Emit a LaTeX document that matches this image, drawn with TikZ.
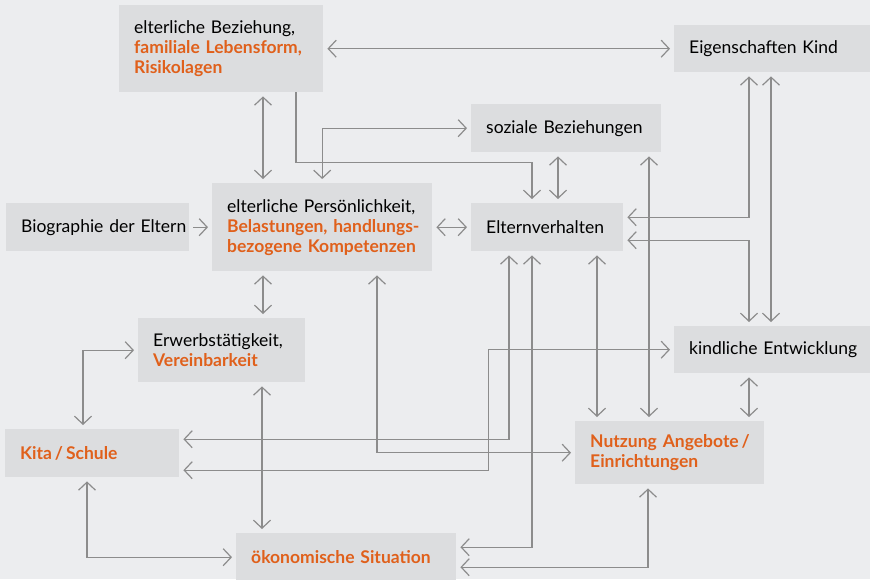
\documentclass[tikz,border=0pt]{standalone}
\usepackage{fontspec}
\setmainfont{Lato}[WordSpace=0.7]
\usepackage{tikz}
\usetikzlibrary{arrows.meta}
\definecolor{bggray}{HTML}{ECEDEF}
\definecolor{boxgray}{HTML}{DCDDDF}
\definecolor{linegray}{HTML}{8C8C8C}
\definecolor{orangeT}{HTML}{E0601B}
\newcommand{\hili}[1]{\textcolor{orangeT}{\bfseries #1}}

\begin{document}
\begin{tikzpicture}[x=1pt, y=-1pt]
		\tikzstyle{box}=[fill=boxgray, anchor=north west, inner sep=0pt, font=\fontsize{17.5}{20}\selectfont, execute at begin node={\leftskip=15pt\rightskip=0pt plus 1fil}]
		\tikzstyle{conn}=[draw=linegray, line width=1.2pt, shorten >=4pt, shorten <=4pt, >={Straight Barb[length=8pt,width=17pt]}]
		
		\useasboundingbox[fill=bggray] (0,0) rectangle (870,579);
		
		% Top row
		\node[box, text width=204pt, minimum height=87pt] at (119, 5) (bez) {elterliche Beziehung,\\\hili{familiale Lebensform,}\\\hili{Risikolagen}};
		\node[box, text width=196pt, minimum height=47pt] at (674, 25) (eig) {Eigenschaften Kind};
		\node[box, text width=190pt, minimum height=48pt] at (471, 104) (soz) {soziale Beziehungen};
		
		% Middle row
		\node[box, text width=183pt, minimum height=48pt] at (6, 203) (bio) {Biographie der Eltern};
		\node[box, text width=220pt, minimum height=88pt] at (212, 183) (pers) {elterliche Persönlichkeit,\\\hili{Belastungen, handlungs-}\\\hili{bezogene Kompetenzen}};
		\node[box, text width=152pt, minimum height=48pt] at (471, 203) (verh) {Elternverhalten};
		\node[box, text width=196pt, minimum height=47pt] at (674, 326) (kind) {kindliche Entwicklung};
		\node[box, text width=167pt, minimum height=64pt] at (138, 318) (erw) {Erwerbstätigkeit,\\\hili{Vereinbarkeit}};
		
		% Bottom row
		\node[box, text width=174pt, minimum height=48pt] at (5, 429) (kita) {\hili{Kita\,/\,Schule}};
		\node[box, text width=189pt, minimum height=63pt] at (575, 421) (nutz) {\hili{Nutzung Angebote\,/}\\\hili{Einrichtungen}};
		\node[box, text width=220pt, minimum height=48pt] at (236, 533) (oek) {\hili{ökonomische Situation}};
		
		% Beziehung, Persoenlichkeit
		\draw[conn, <->] (bez.east) -- (eig.west);
		\draw[conn, <->] ([xshift=144pt]bez.south west) -- ([xshift=51pt]pers.north west);
		\draw[conn, ->, shorten <=0pt] ([xshift=177pt]bez.south west) -- ++(0,70) -| ([xshift=61pt]verh.north west);
		\draw[conn, <->] (pers.north) |- (soz.west);
		\draw[conn, <->] ([xshift=87pt]soz.south west) -- ([xshift=87pt]verh.north west);
		\draw[conn, ->] (bio.east) -- (pers.west);
		\draw[conn, <->] (pers.east) -- (verh.west);
		
		% Kind
		\draw[conn, <->] ([xshift=75pt]eig.south west) |- ([yshift=10pt]verh.east);
		\draw[conn, <->] ([yshift=-13pt]verh.east) -| ([xshift=75pt]kind.north west);
		\draw[conn, <->] ([xshift=97pt]eig.south west) -- ([xshift=97pt]kind.north west);
		\draw[conn, <->] ([xshift=75pt]kind.south west) -- ([xshift=174pt]nutz.north west);
		
		% Angebote
		\draw[conn, <->] ([xshift=178pt]soz.south west) -- ([xshift=74pt]nutz.north west);
		\draw[conn, <->] ([xshift=126pt]verh.south west) -- ([xshift=22pt]nutz.north west);
		\draw[conn, <->] ([xshift=165pt]pers.south west) |- (nutz.west);
		\draw[conn, <->] ([xshift=73pt]nutz.south west) |- ([yshift=-10pt]oek.east);
		
		% Kita, Erwerb, Oekonomie
		\draw[conn, <->] ([xshift=38pt]verh.south west) |- ([yshift=14pt]kita.east);
		\draw[conn, <->] ([yshift=-17pt]kita.east) -- ++(309,0) |- (kind.west);
		\draw[conn, <->] ([xshift=61pt]verh.south west) |- ([yshift=10pt]oek.east);
		\draw[conn, <->] ([xshift=51pt]pers.south west) -- ([xshift=125pt]erw.north west);
		\draw[conn, <->] ([xshift=124pt]erw.south west) -- ([xshift=26pt]oek.north west);
		\draw[conn, <->] (erw.west) -| ([xshift=78pt]kita.north west);
		\draw[conn, <->] ([xshift=82pt]kita.south west) |- (oek.west);
		
\end{tikzpicture}
\end{document}
